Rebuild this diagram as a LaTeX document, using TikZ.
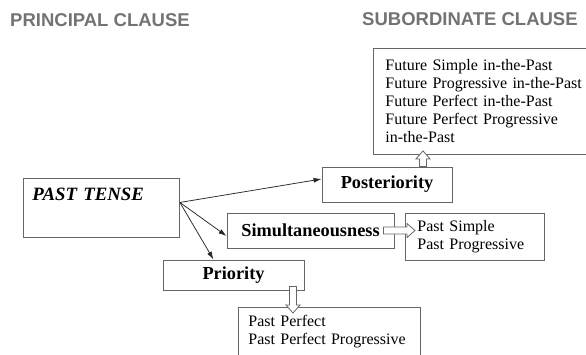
\documentclass[tikz,border=0pt]{standalone}
\usepackage{fontspec}
\setmainfont{Liberation Serif}
\setsansfont{Liberation Sans}
\usetikzlibrary{arrows.meta,calc}

\definecolor{headgray}{gray}{0.45}
\definecolor{framegray}{gray}{0.4}

% open block arrow from #2 to #3, tip pushed #1 further
\newcommand\hollowarrow[3][0]{%
  \draw[hollow] let \p1=(#2), \p2=(#3),
    \n1={atan2(\y2-\y1,\x2-\x1)}, \n2={veclen(\x2-\x1,\y2-\y1)+#1}
    in [shift={(\p1)}, rotate=\n1]
    (0,-3.5) -- (\n2-8,-3.5) -- (\n2-8,-7) -- (\n2,0) -- (\n2-8,7) -- (\n2-8,3.5) -- (0,3.5) -- cycle;}

\begin{document}
\begin{tikzpicture}[
  x=1pt, y=-1pt,
  font=\fontsize{16}{18}\selectfont,
  head/.style={anchor=west, inner sep=0pt, font=\sffamily\bfseries\fontsize{18.5}{20}\selectfont, text=headgray},
  box/.style={draw=framegray, line width=0.9pt, fill=white, inner sep=0pt},
  listbox/.style={box, anchor=north west, align=left, inner xsep=12pt},
  timebox/.style={box, font=\bfseries\fontsize{18.3}{20}\selectfont},
  arrow/.style={-{Latex[length=8pt,width=5pt]}, line width=0.75pt, draw=black!85},
  hollow/.style={draw=framegray, fill=white, line width=0.8pt, line join=miter}
]
\useasboundingbox (0,0) rectangle (586,354);

\node[head] (principal) at (10,20) {PRINCIPAL CLAUSE};
\node[head] (subordinate) at (362,19) {SUBORDINATE CLAUSE};

\node[box, anchor=north west, text width=138pt, align=left, inner xsep=9pt, inner ysep=6pt,
  text height=16pt, text depth=31pt, font=\bfseries\itshape\fontsize{18.8}{20}\selectfont]
  (past) at (23,178) {PAST TENSE};

\node[listbox, text width=212pt, minimum height=106pt] (future) at (373,48)
  {Future Simple in-the-Past\\Future Progressive in-the-Past\\Future Perfect in-the-Past\\Future Perfect Progressive\\in-the-Past};
\node[timebox, minimum width=130pt, minimum height=35pt] (posteriority) at (387,184.5) {Posteriority};
\node[timebox, minimum width=167pt, minimum height=35pt] (simul) at (310.5,230.5) {Simultaneousness};
\node[timebox, minimum width=141pt, minimum height=30pt] (priority) at (233.5,275) {Priority};
\node[listbox, text width=115pt, minimum height=47pt] (pastsimple) at (405,213)
  {Past Simple\\Past Progressive};
\node[listbox, text width=162pt, inner xsep=10pt, minimum height=49pt] (pastperfect) at (238,307)
  {Past Perfect\\Past Perfect Progressive};

\coordinate (split) at ([yshift=5.5pt]past.east);
\draw[arrow] (split) -- ([yshift=5.5pt]posteriority.west);
\draw[arrow] (split) -- ([yshift=-5.5pt]simul.west);
\draw[arrow] (split) -- ([xshift=-20pt]priority.north);

\coordinate (postfoot) at ([xshift=36pt]posteriority.north);
\hollowarrow[4]{postfoot}{postfoot |- future.south}
\coordinate (simulfoot) at ([xshift=-11pt]simul.east);
\hollowarrow[10]{simulfoot}{simulfoot -| pastsimple.west}
\coordinate (priofoot) at ([xshift=59.5pt,yshift=4pt]priority.south);
\hollowarrow[6]{priofoot}{priofoot |- pastperfect.north}

\end{tikzpicture}
\end{document}
